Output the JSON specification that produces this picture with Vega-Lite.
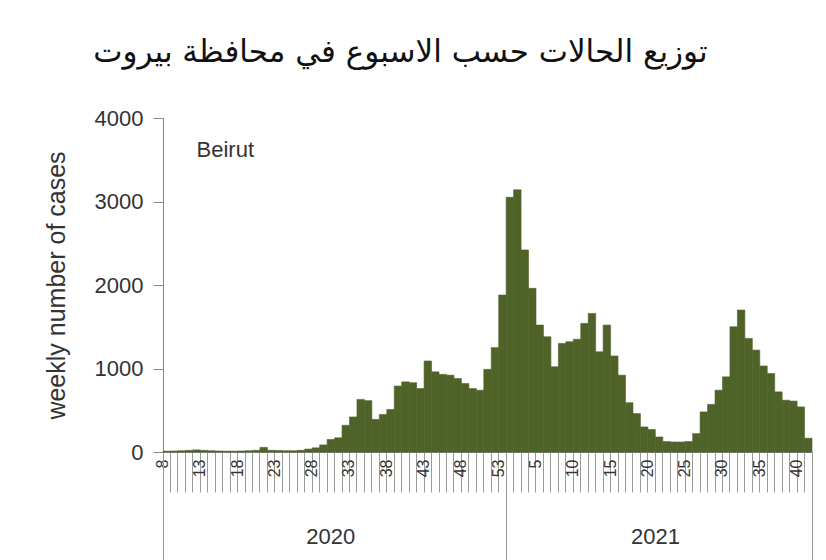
{
  "$schema": "https://vega.github.io/schema/vega-lite/v6.json",
  "width": 649,
  "height": 334,
  "autosize": {"type": "none"},
  "padding": {"left": 163, "top": 118, "right": 14, "bottom": 108},
  "background": "white",
  "title": {
    "text": "توزيع الحالات حسب الاسبوع في محافظة بيروت",
    "font": "DejaVu Sans",
    "fontSize": 31,
    "fontWeight": "normal",
    "color": "#111111",
    "anchor": "middle",
    "dx": -87,
    "offset": 38
  },
  "config": {"view": {"stroke": null}, "font": "Liberation Sans"},
  "data": {
    "values": [
      {"year": 2020, "week": 8, "key": "2020-08", "cases": 10},
      {"year": 2020, "week": 9, "key": "2020-09", "cases": 12},
      {"year": 2020, "week": 10, "key": "2020-10", "cases": 15},
      {"year": 2020, "week": 11, "key": "2020-11", "cases": 20},
      {"year": 2020, "week": 12, "key": "2020-12", "cases": 25},
      {"year": 2020, "week": 13, "key": "2020-13", "cases": 20},
      {"year": 2020, "week": 14, "key": "2020-14", "cases": 15},
      {"year": 2020, "week": 15, "key": "2020-15", "cases": 12},
      {"year": 2020, "week": 16, "key": "2020-16", "cases": 10},
      {"year": 2020, "week": 17, "key": "2020-17", "cases": 10},
      {"year": 2020, "week": 18, "key": "2020-18", "cases": 12},
      {"year": 2020, "week": 19, "key": "2020-19", "cases": 15},
      {"year": 2020, "week": 20, "key": "2020-20", "cases": 20},
      {"year": 2020, "week": 21, "key": "2020-21", "cases": 55},
      {"year": 2020, "week": 22, "key": "2020-22", "cases": 20},
      {"year": 2020, "week": 23, "key": "2020-23", "cases": 18},
      {"year": 2020, "week": 24, "key": "2020-24", "cases": 15},
      {"year": 2020, "week": 25, "key": "2020-25", "cases": 15},
      {"year": 2020, "week": 26, "key": "2020-26", "cases": 20},
      {"year": 2020, "week": 27, "key": "2020-27", "cases": 35},
      {"year": 2020, "week": 28, "key": "2020-28", "cases": 50},
      {"year": 2020, "week": 29, "key": "2020-29", "cases": 85},
      {"year": 2020, "week": 30, "key": "2020-30", "cases": 150},
      {"year": 2020, "week": 31, "key": "2020-31", "cases": 170},
      {"year": 2020, "week": 32, "key": "2020-32", "cases": 320},
      {"year": 2020, "week": 33, "key": "2020-33", "cases": 420},
      {"year": 2020, "week": 34, "key": "2020-34", "cases": 630},
      {"year": 2020, "week": 35, "key": "2020-35", "cases": 615},
      {"year": 2020, "week": 36, "key": "2020-36", "cases": 390},
      {"year": 2020, "week": 37, "key": "2020-37", "cases": 450},
      {"year": 2020, "week": 38, "key": "2020-38", "cases": 510},
      {"year": 2020, "week": 39, "key": "2020-39", "cases": 790},
      {"year": 2020, "week": 40, "key": "2020-40", "cases": 840},
      {"year": 2020, "week": 41, "key": "2020-41", "cases": 830},
      {"year": 2020, "week": 42, "key": "2020-42", "cases": 760},
      {"year": 2020, "week": 43, "key": "2020-43", "cases": 1090},
      {"year": 2020, "week": 44, "key": "2020-44", "cases": 960},
      {"year": 2020, "week": 45, "key": "2020-45", "cases": 930},
      {"year": 2020, "week": 46, "key": "2020-46", "cases": 920},
      {"year": 2020, "week": 47, "key": "2020-47", "cases": 880},
      {"year": 2020, "week": 48, "key": "2020-48", "cases": 820},
      {"year": 2020, "week": 49, "key": "2020-49", "cases": 760},
      {"year": 2020, "week": 50, "key": "2020-50", "cases": 740},
      {"year": 2020, "week": 51, "key": "2020-51", "cases": 990},
      {"year": 2020, "week": 52, "key": "2020-52", "cases": 1250},
      {"year": 2020, "week": 53, "key": "2020-53", "cases": 1880},
      {"year": 2021, "week": 1, "key": "2021-01", "cases": 3050},
      {"year": 2021, "week": 2, "key": "2021-02", "cases": 3140},
      {"year": 2021, "week": 3, "key": "2021-03", "cases": 2420},
      {"year": 2021, "week": 4, "key": "2021-04", "cases": 1960},
      {"year": 2021, "week": 5, "key": "2021-05", "cases": 1520},
      {"year": 2021, "week": 6, "key": "2021-06", "cases": 1380},
      {"year": 2021, "week": 7, "key": "2021-07", "cases": 1020},
      {"year": 2021, "week": 8, "key": "2021-08", "cases": 1300},
      {"year": 2021, "week": 9, "key": "2021-09", "cases": 1320},
      {"year": 2021, "week": 10, "key": "2021-10", "cases": 1350},
      {"year": 2021, "week": 11, "key": "2021-11", "cases": 1540},
      {"year": 2021, "week": 12, "key": "2021-12", "cases": 1660},
      {"year": 2021, "week": 13, "key": "2021-13", "cases": 1200},
      {"year": 2021, "week": 14, "key": "2021-14", "cases": 1520},
      {"year": 2021, "week": 15, "key": "2021-15", "cases": 1150},
      {"year": 2021, "week": 16, "key": "2021-16", "cases": 920},
      {"year": 2021, "week": 17, "key": "2021-17", "cases": 590},
      {"year": 2021, "week": 18, "key": "2021-18", "cases": 460},
      {"year": 2021, "week": 19, "key": "2021-19", "cases": 300},
      {"year": 2021, "week": 20, "key": "2021-20", "cases": 270},
      {"year": 2021, "week": 21, "key": "2021-21", "cases": 180},
      {"year": 2021, "week": 22, "key": "2021-22", "cases": 125},
      {"year": 2021, "week": 23, "key": "2021-23", "cases": 120},
      {"year": 2021, "week": 24, "key": "2021-24", "cases": 120},
      {"year": 2021, "week": 25, "key": "2021-25", "cases": 125},
      {"year": 2021, "week": 26, "key": "2021-26", "cases": 220},
      {"year": 2021, "week": 27, "key": "2021-27", "cases": 480},
      {"year": 2021, "week": 28, "key": "2021-28", "cases": 570},
      {"year": 2021, "week": 29, "key": "2021-29", "cases": 740},
      {"year": 2021, "week": 30, "key": "2021-30", "cases": 900},
      {"year": 2021, "week": 31, "key": "2021-31", "cases": 1500},
      {"year": 2021, "week": 32, "key": "2021-32", "cases": 1700},
      {"year": 2021, "week": 33, "key": "2021-33", "cases": 1360},
      {"year": 2021, "week": 34, "key": "2021-34", "cases": 1220},
      {"year": 2021, "week": 35, "key": "2021-35", "cases": 1030},
      {"year": 2021, "week": 36, "key": "2021-36", "cases": 940},
      {"year": 2021, "week": 37, "key": "2021-37", "cases": 720},
      {"year": 2021, "week": 38, "key": "2021-38", "cases": 620},
      {"year": 2021, "week": 39, "key": "2021-39", "cases": 610},
      {"year": 2021, "week": 40, "key": "2021-40", "cases": 540},
      {"year": 2021, "week": 41, "key": "2021-41", "cases": 165}
    ]
  },
  "layer": [
    {
      "mark": {"type": "bar", "color": "#4F6228", "stroke": "#4F6228", "strokeWidth": 0.6},
      "encoding": {
        "x": {
          "field": "key",
          "type": "ordinal",
          "scale": {"paddingInner": 0, "paddingOuter": 0},
          "axis": {
            "orient": "bottom",
            "title": null,
            "bandPosition": 1,
            "tickExtra": true,
            "tickSize": 40,
            "tickColor": "#9a9a9a",
            "domainColor": "#868686",
            "labelAngle": -90,
            "labelAlign": "right",
            "labelBaseline": "middle",
            "labelOffset": -3.73,
            "labelPadding": -33,
            "labelFontSize": 16,
            "labelColor": "#333333",
            "labelOverlap": false,
            "labelBound": false,
            "labelExpr": "(split(datum.value,'-')[0]=='2020' ? (toNumber(split(datum.value,'-')[1])-8)%5==0 : toNumber(split(datum.value,'-')[1])%5==0) ? toString(toNumber(split(datum.value,'-')[1])) : ''"
          }
        },
        "y": {
          "field": "cases",
          "type": "quantitative",
          "scale": {"domain": [0, 4000], "nice": false},
          "axis": {
            "values": [0, 1000, 2000, 3000, 4000],
            "format": "d",
            "title": "weekly number of cases",
            "titleFontSize": 25,
            "titleFontWeight": "normal",
            "titleColor": "#333333",
            "titlePadding": 25,
            "labelFontSize": 22,
            "labelColor": "#333333",
            "labelPadding": 10,
            "tickSize": 10,
            "tickColor": "#868686",
            "domainColor": "#868686",
            "grid": false
          }
        }
      }
    },
    {
      "transform": [{"filter": "datum.key == '2020-12'"}],
      "mark": {"type": "text", "text": "Beirut", "align": "left", "baseline": "middle", "fontSize": 22, "color": "#333333"},
      "encoding": {
        "x": {
          "field": "key",
          "type": "ordinal",
          "axis": {
            "orient": "bottom",
            "title": null,
            "values": ["2020-08", "2020-53", "2021-41"],
            "bandPosition": 1,
            "tickExtra": true,
            "domain": false,
            "tickSize": 108,
            "tickColor": "#9a9a9a",
            "tickOpacity": {"condition": {"test": "datum.value == '2020-08' && !datum.extra", "value": 0}, "value": 1},
            "labelAngle": 0,
            "labelAlign": "center",
            "labelBaseline": "top",
            "labelPadding": -34,
            "labelFontSize": 22,
            "labelColor": "#333333",
            "labelOverlap": false,
            "labelBound": false,
            "labelOffset": {"condition": {"test": "datum.value == '2020-08'", "value": 164}, "value": 153},
            "labelExpr": "datum.value == '2020-08' ? '2020' : datum.value == '2020-53' ? '2021' : ''"
          }
        },
        "y": {"datum": 3620, "type": "quantitative", "axis": null}
      }
    }
  ],
  "resolve": {"axis": {"x": "independent", "y": "independent"}}
}
